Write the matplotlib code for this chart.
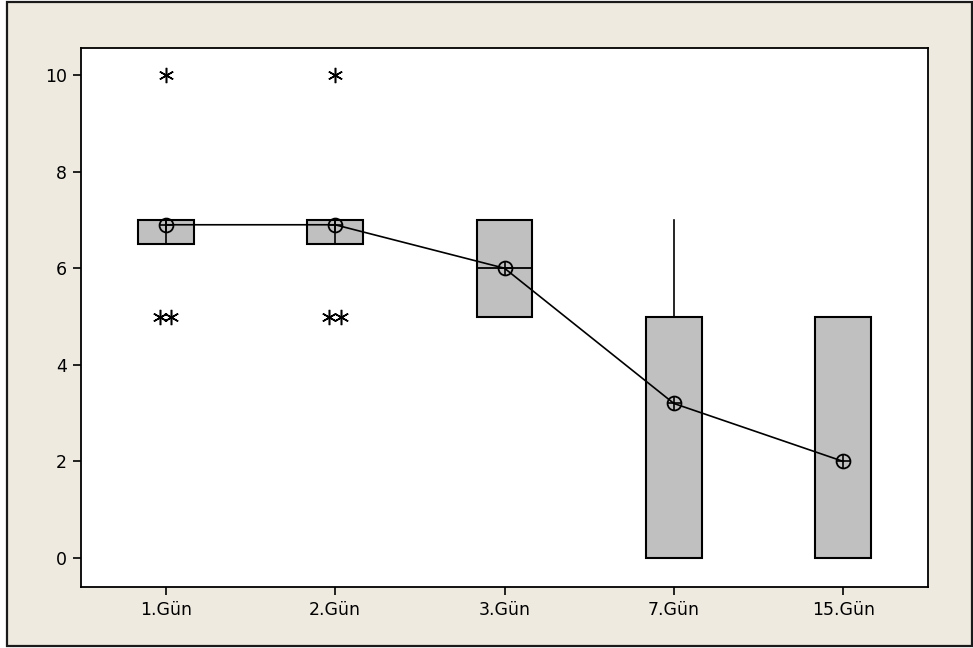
import matplotlib
matplotlib.use("Agg")
import matplotlib.pyplot as plt
from matplotlib.patches import Rectangle
from collections import Counter

# Days and per-day box summary
days = ["1.Gün", "2.Gün", "3.Gün", "7.Gün", "15.Gün"]
q1 = [6.5, 6.5, 5.0, 0.0, 0.0]
median = [7.0, 7.0, 6.0, 5.0, 0.0]
q3 = [7.0, 7.0, 7.0, 5.0, 5.0]
whisker_low = [6.5, 6.5, 5.0, 0.0, 0.0]
whisker_high = [7.0, 7.0, 7.0, 7.0, 5.0]
means = [6.9, 6.9, 6.0, 3.2, 2.0]
outliers = [[10, 5, 5], [10, 5, 5], [], [], []]
yticks = [0, 2, 4, 6, 8, 10]

BG = "#EEEAE0"
BOX = "#C0C0C0"

fig = plt.figure(figsize=(9.73, 6.48), dpi=100)
fig.patch.set_facecolor("white")
# outer panel with border
fig.patches.append(Rectangle((7 / 973, 1 - 646 / 648), 965 / 973, 644 / 648,
                             transform=fig.transFigure, facecolor=BG,
                             edgecolor="#1a1a1a", linewidth=1.6, zorder=-10))

ax = fig.add_axes([81 / 973, 1 - 587 / 648, (928 - 81) / 973, (587 - 48) / 648])
ax.set_zorder(1)
ax.set_facecolor("white")

positions = list(range(1, len(days) + 1))
stats = []
for i in range(len(days)):
    stats.append(dict(med=median[i], q1=q1[i], q3=q3[i],
                      whislo=whisker_low[i], whishi=whisker_high[i],
                      fliers=[], label=days[i]))
ax.bxp(stats, positions=positions, widths=0.33, patch_artist=True,
       showfliers=False, showcaps=False,
       boxprops=dict(facecolor=BOX, edgecolor="black", linewidth=1.5),
       medianprops=dict(color="black", linewidth=1.3),
       whiskerprops=dict(color="black", linewidth=1.2),
       zorder=2)

# center line through flat boxes
for p, lo, hi in zip(positions[:2], q1[:2], q3[:2]):
    ax.plot([p, p], [lo, hi], color="black", lw=1.2, zorder=3)

# outliers; repeated values are placed side by side
for p, vals in zip(positions, outliers):
    for v, n in Counter(vals).items():
        offs = [(k - (n - 1) / 2) * 0.068 for k in range(n)]
        for o in offs:
            ax.plot(p + o, v, marker=(6, 2, 0), color="black",
                    markersize=11, markeredgewidth=1.1, linestyle="none",
                    zorder=4)

# mean connect line with circled-plus symbols
ax.plot(positions, means, color="black", lw=1.2, zorder=4)
ax.plot(positions, means, marker="o", markersize=10, markerfacecolor="none",
        markeredgecolor="black", markeredgewidth=1.3, linestyle="none", zorder=5)
ax.plot(positions, means, marker="+", markersize=10, color="black",
        markeredgewidth=1.2, linestyle="none", zorder=5)

ax.set_xlim(0.5, 5.5)
ax.set_ylim(-0.6, 10.56)
ax.set_xticks(positions)
ax.set_xticklabels(days)
ax.set_yticks(yticks)
ax.set_yticklabels([str(t) for t in yticks])
for s in ax.spines.values():
    s.set_linewidth(1.3)
ax.tick_params(direction="out", length=6, width=1.2, labelsize=12.5, pad=4,
               colors="black")

fig.savefig("out.png", dpi=100, facecolor=fig.get_facecolor())
